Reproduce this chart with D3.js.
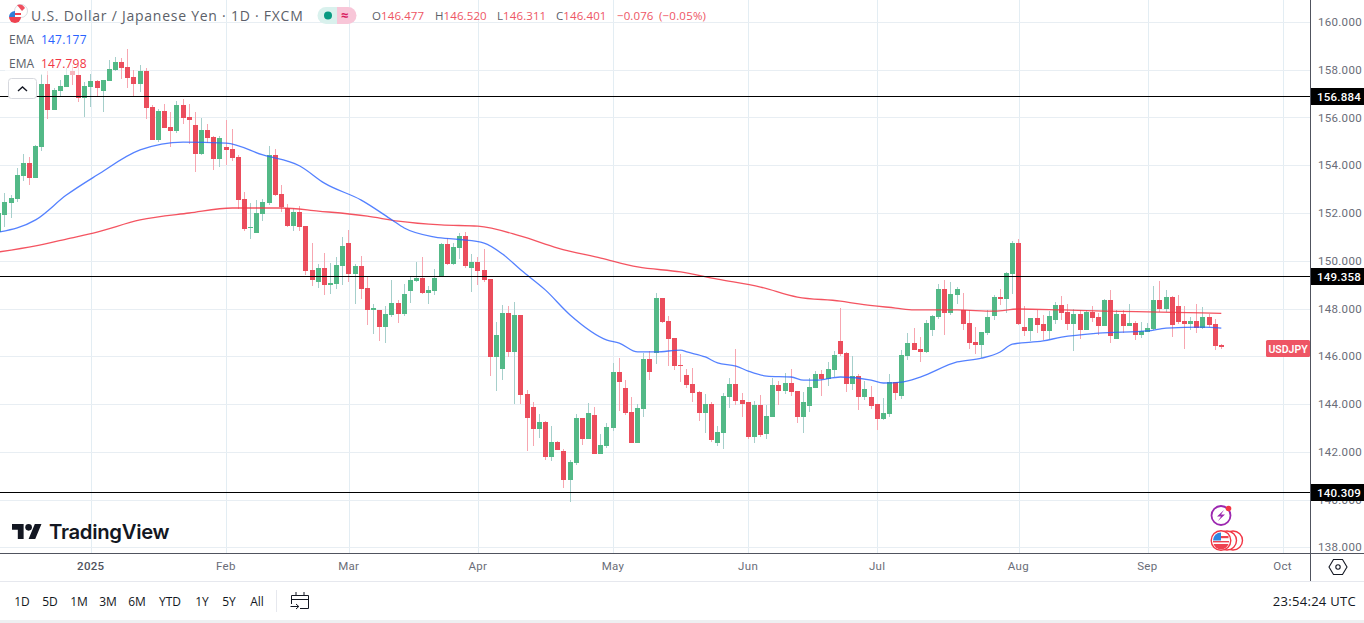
<!DOCTYPE html>
<html>
<head>
<meta charset="utf-8">
<title>USD/JPY</title>
<script src="https://cdn.jsdelivr.net/npm/d3@7"></script>
<style>
  html, body { margin: 0; padding: 0; background: #fff; overflow: hidden; }
  svg { display: block; }
  text { font-family: "Open Sans", Roboto, sans-serif; }
</style>
</head>
<body>
<svg id="chart" width="1364" height="623"></svg>
<script>
// daily candles (oldest first)
const opens = [
  151.20,151.91,152.42,152.58,153.55,154.09,153.46,154.76,157.40,156.31,
  157.11,157.28,157.95,157.78,156.81,157.28,157.53,157.11,157.53,157.99,
  158.32,158.11,157.69,157.40,157.95,156.44,155.06,156.27,155.60,155.43,
  156.52,156.02,155.68,154.47,155.47,155.18,154.26,154.76,154.68,154.34,
  152.58,151.37,151.16,151.96,152.42,154.43,152.79,152.21,151.45,152.04,
  151.45,149.61,149.11,149.69,148.98,149.02,149.78,150.74,149.44,149.78,
  148.86,147.94,147.94,147.22,147.73,148.23,147.77,148.73,149.15,149.28,
  148.65,148.73,149.32,150.70,149.86,150.53,151.04,149.69,149.95,149.61,
  149.23,145.97,145.46,147.81,146.18,147.73,144.42,143.87,142.95,143.24,
  141.78,142.41,142.03,140.81,141.53,143.41,142.53,143.54,141.90,142.24,
  143.00,145.34,144.67,143.66,142.37,143.79,145.88,146.13,148.44,147.48,
  146.76,145.63,145.21,144.83,144.50,143.62,144.00,142.37,142.78,144.29,
  144.83,144.17,144.08,142.62,143.96,142.74,143.45,144.79,144.54,144.88,
  144.54,143.45,143.91,144.67,145.25,145.05,145.42,146.64,146.13,144.83,
  145.17,144.29,144.29,144.00,143.37,143.58,144.92,144.33,146.01,146.55,
  146.30,146.18,147.10,147.64,148.81,147.81,148.56,147.94,147.39,146.60,
  146.47,146.97,147.68,148.48,148.40,149.44,150.74,147.22,147.06,147.60,
  147.35,147.06,147.52,148.15,147.85,147.35,147.77,147.10,147.85,147.64,
  147.27,148.36,146.72,147.77,147.27,147.39,146.89,147.01,147.14,148.36,
  147.98,148.48,148.10,147.48,147.35,147.48,147.18,147.64,147.35,146.477
];
const highs = [
  152.12,152.84,152.75,153.88,154.47,154.34,154.85,157.82,157.95,157.23,
  157.57,158.07,158.20,158.20,157.49,157.82,157.57,157.57,158.41,158.53,
  158.49,158.87,157.99,158.20,158.07,156.52,156.35,156.56,156.23,156.69,
  156.77,156.56,156.23,155.98,155.73,155.22,155.22,155.89,155.52,154.43,
  152.88,152.42,152.54,152.58,154.81,154.68,153.17,152.38,152.21,152.29,
  151.45,150.74,149.86,150.32,149.90,150.15,151.00,151.29,149.86,150.20,
  149.32,148.19,147.94,148.10,149.19,148.36,149.02,149.32,149.95,150.15,
  148.94,149.65,150.74,150.95,150.74,151.16,151.20,150.28,150.15,150.49,
  149.23,147.43,148.15,148.10,148.27,147.73,144.58,144.08,143.58,143.29,
  143.08,142.45,142.11,141.65,143.58,143.41,144.04,143.87,142.74,143.20,
  145.72,145.92,145.00,144.29,144.00,146.13,146.22,148.65,148.44,147.68,
  146.76,146.09,145.47,145.50,144.54,144.42,144.08,143.08,144.46,145.08,
  146.30,144.46,144.08,144.12,144.37,143.96,145.08,144.96,145.30,145.46,
  144.54,144.50,145.08,145.38,145.42,145.76,146.22,148.02,146.18,146.01,
  145.25,144.96,144.75,144.00,144.25,145.25,144.92,146.26,146.97,147.18,
  146.80,147.52,147.73,149.02,149.19,149.11,148.90,148.65,147.94,147.22,
  147.01,147.94,148.56,148.81,149.53,150.83,150.91,148.10,147.60,147.94,
  147.73,147.89,148.27,148.52,148.19,147.98,147.94,147.94,148.10,147.81,
  148.40,148.77,147.94,147.94,148.19,147.48,147.43,147.39,148.94,149.15,
  148.77,148.52,148.56,148.10,147.64,148.19,148.06,147.77,147.56,146.520
];
const lows = [
  150.99,151.41,151.79,152.46,153.34,153.17,153.46,154.60,155.94,156.31,
  156.86,157.28,157.36,156.65,156.02,156.44,156.86,156.23,157.53,157.95,
  157.61,157.23,156.90,157.07,155.94,155.06,154.97,155.56,154.76,155.35,
  155.73,154.89,153.72,154.43,154.93,153.80,153.93,154.01,154.18,152.17,
  151.25,150.91,151.16,151.66,152.33,152.71,152.04,151.41,151.25,151.25,
  149.40,148.94,148.86,148.56,148.60,148.81,148.98,149.11,148.19,148.40,
  147.31,146.93,146.64,146.55,147.64,147.39,147.68,148.23,149.11,148.61,
  148.19,148.56,149.32,149.82,149.82,150.07,149.69,148.69,148.98,149.11,
  145.17,144.54,145.00,145.97,144.00,144.00,142.03,142.24,142.57,141.65,
  141.61,142.07,140.48,139.89,141.44,142.28,142.53,141.90,141.90,142.16,
  142.87,143.71,143.54,142.37,142.37,143.45,145.00,145.67,147.39,145.59,
  145.42,144.92,144.67,144.08,143.29,142.78,142.41,142.24,142.11,143.83,
  143.96,143.45,142.53,142.37,142.62,142.53,143.45,143.96,144.42,144.33,
  143.20,142.78,143.66,144.67,144.33,144.75,145.13,146.01,144.50,144.58,
  143.75,144.17,143.79,142.91,143.33,143.45,144.17,144.21,145.84,146.26,
  145.76,146.13,146.85,147.56,146.89,147.73,148.19,147.10,146.30,146.09,
  145.92,146.89,147.52,148.15,147.81,148.61,147.31,146.85,146.64,146.97,
  146.68,146.72,147.35,147.52,147.10,146.22,146.72,147.10,147.43,146.89,
  147.27,146.55,146.72,146.97,147.27,146.68,146.76,147.01,147.10,147.85,
  147.85,146.80,147.35,146.30,147.10,146.97,147.14,147.22,146.26,146.311
];
const closes = [
  152.00,152.46,152.63,153.59,154.09,153.46,154.81,157.40,156.31,157.15,
  157.32,157.78,157.78,156.81,157.32,157.53,157.23,157.57,158.03,158.32,
  158.07,157.65,157.40,157.95,156.40,155.06,156.27,155.56,155.43,156.52,
  155.98,155.89,154.47,155.47,155.14,154.26,155.14,154.64,154.30,152.54,
  151.33,151.41,152.00,152.46,154.43,152.75,152.25,151.45,152.04,151.41,
  149.57,149.19,149.69,148.98,149.07,149.82,150.62,149.44,149.78,148.81,
  147.94,148.02,147.22,147.77,148.23,147.77,148.61,149.19,149.28,148.65,
  148.77,149.28,150.70,149.86,150.57,151.04,149.78,149.95,149.57,149.19,
  145.97,146.89,147.81,146.18,147.73,144.37,143.41,142.95,143.24,141.78,
  142.41,142.07,140.81,141.57,143.41,142.53,143.62,141.90,142.28,143.04,
  145.34,144.92,143.62,142.37,143.83,145.88,145.34,148.44,147.43,146.72,
  145.59,145.59,144.79,144.46,143.62,144.00,142.49,142.83,144.33,144.83,
  144.12,144.00,142.62,143.96,142.70,143.50,144.79,144.54,144.88,144.50,
  143.45,144.08,144.71,145.25,145.05,145.46,146.05,146.09,144.83,145.17,
  144.29,144.63,143.91,143.37,143.62,144.92,144.46,146.05,146.55,146.26,
  146.18,147.39,147.68,148.81,147.81,148.61,148.81,147.35,146.55,146.47,
  147.01,147.64,148.48,148.40,149.49,150.74,147.35,147.06,147.60,147.31,
  147.06,147.68,148.15,147.81,147.35,147.77,147.10,147.85,147.60,147.27,
  148.36,146.85,147.77,147.27,147.39,146.89,147.06,147.18,148.36,147.98,
  148.48,147.31,147.43,147.35,147.48,147.18,147.64,147.31,146.43,146.401
];

// EMA lines, read at these bar numbers
const fastBars = [0,6,11,16,23,30,37,43,49,53,59,64,66,71,75,79,82,85,89,93,99,101,104,107,111,112,115,117,120,122,125,129,131,133,137,142,144,147,150,156,160,163,165,170,173,179,187,190,196,199];
const fastEma = [151.20,151.71,152.75,153.59,154.64,154.97,154.93,154.43,153.97,153.25,152.54,151.71,151.37,150.99,150.89,150.74,150.28,149.61,148.77,147.73,146.68,146.55,146.18,146.18,146.26,146.18,145.97,145.72,145.59,145.38,145.17,145.13,145.00,145.00,145.13,145.00,144.88,144.92,145.13,145.76,145.92,146.18,146.51,146.64,146.80,146.97,147.06,147.18,147.22,147.177];
const slowBars = [0,6,11,16,23,31,38,46,52,60,65,72,78,85,91,98,104,111,117,124,130,137,140,146,149,156,162,166,173,180,189,199];
const slowEma = [150.37,150.62,150.91,151.20,151.71,152.00,152.21,152.21,152.08,151.87,151.66,151.50,151.45,151.03,150.53,150.11,149.74,149.53,149.23,148.90,148.48,148.31,148.19,148.02,147.94,147.94,147.89,147.98,147.94,147.89,147.85,147.798];

const priceTicks = [138,140,142,144,146,148,150,152,154,156,158,160];
const levels = [156.884, 149.358, 140.309];
const timeTickBars = [15,37,57,78,100,122,143,166,187,209];
const timeTickLabels = ['2025','Feb','Mar','Apr','May','Jun','Jul','Aug','Sep','Oct'];
const rangeButtons = ['1D','5D','1M','3M','6M','YTD','1Y','5Y','All'];
const rangeButtonX = [22,50,79,108,137,170,202,229,257];

const UP = '#53b987', DOWN = '#eb4d5c';
const UP_WICK = '#a6cfcb', DOWN_WICK = '#f7a6b0';
const INK = '#131722', MUTED = '#6a6d78';

const W = 1364, PLOT_R = 1310, PLOT_B = 553;

const x = d3.scaleLinear().domain([0, 199]).range([-1.2, 1221.3]);
const y = d3.scaleLinear().domain([138, 160]).range([547.25, 22]);
const crisp = v => Math.round(v) + 0.5;

const svg = d3.select('#chart');
svg.append('rect').attr('width', W).attr('height', 623).attr('fill', '#fff');

// grid
const grid = svg.append('g').attr('shape-rendering', 'crispEdges');
grid.selectAll('.v').data(timeTickBars).join('line')
  .attr('x1', d => crisp(x(d))).attr('x2', d => crisp(x(d)))
  .attr('y1', 0).attr('y2', PLOT_B)
  .attr('stroke', '#e3edf3');
grid.selectAll('.h').data(priceTicks).join('line')
  .attr('x1', 0).attr('x2', PLOT_R)
  .attr('y1', d => crisp(y(d))).attr('y2', d => crisp(y(d)))
  .attr('stroke', '#e8eef3');

// candles
const bars = d3.range(opens.length);
const candles = svg.append('g').attr('shape-rendering', 'crispEdges');
candles.selectAll('line').data(bars).join('line')
  .attr('x1', i => crisp(x(i) - 0.5)).attr('x2', i => crisp(x(i) - 0.5))
  .attr('y1', i => y(highs[i])).attr('y2', i => y(lows[i]))
  .attr('stroke', i => closes[i] >= opens[i] ? UP_WICK : DOWN_WICK);
candles.selectAll('rect').data(bars).join('rect')
  .attr('x', i => Math.round(x(i) - 0.5) - 2)
  .attr('width', 5)
  .attr('y', i => Math.round(y(Math.max(opens[i], closes[i]))))
  .attr('height', i => Math.max(1, Math.abs(y(opens[i]) - y(closes[i]))))
  .attr('fill', i => closes[i] >= opens[i] ? UP : DOWN);

// EMAs
const emaLine = d3.line().curve(d3.curveMonotoneX).x(d => x(d[0])).y(d => y(d[1]));
svg.append('path').datum(d3.zip(slowBars, slowEma)).attr('d', emaLine)
  .attr('fill', 'none').attr('stroke', '#f23645').attr('stroke-width', 1.3).attr('opacity', 0.85);
svg.append('path').datum(d3.zip(fastBars, fastEma)).attr('d', emaLine)
  .attr('fill', 'none').attr('stroke', '#2962ff').attr('stroke-width', 1.3).attr('opacity', 0.8);

// horizontal levels
svg.append('g').attr('shape-rendering', 'crispEdges')
  .selectAll('line').data(levels).join('line')
  .attr('x1', 0).attr('x2', PLOT_R)
  .attr('y1', d => crisp(y(d))).attr('y2', d => crisp(y(d)))
  .attr('stroke', '#000');

// legend veil, the candles fade out underneath it
svg.append('rect').attr('x', 5).attr('y', 53).attr('width', 85).attr('height', 22)
  .attr('fill', '#fff').attr('opacity', 0.6);

// axes
const yAxis = d3.axisRight(y).tickValues(priceTicks).tickSize(0).tickPadding(8)
  .tickFormat(d3.format('.3f'));
const gy = svg.append('g').attr('transform', `translate(${PLOT_R},0)`).call(yAxis);
gy.select('.domain').remove();
gy.selectAll('text').attr('fill', MUTED).attr('font-size', 11.5)
  .style('font-family', 'Roboto, sans-serif').attr('letter-spacing', 0.3);

const xAxis = d3.axisBottom(x).tickValues(timeTickBars).tickSize(0).tickPadding(9)
  .tickFormat((d, i) => timeTickLabels[i]);
const gx = svg.append('g').attr('transform', `translate(-0.7,${PLOT_B})`).call(xAxis);
gx.select('.domain').remove();
gx.selectAll('text').attr('fill', (d, i) => i === 0 ? '#50535e' : MUTED).attr('font-size', 11.5)
  .attr('font-weight', (d, i) => i === 0 ? 500 : 400)
  .style('font-family', 'Roboto, sans-serif').attr('letter-spacing', 0.3);

// frame
const frame = svg.append('g').attr('shape-rendering', 'crispEdges');
frame.append('line').attr('x1', 0).attr('x2', W).attr('y1', PLOT_B + 0.5).attr('y2', PLOT_B + 0.5).attr('stroke', '#50535e');
frame.append('line').attr('x1', PLOT_R + 0.5).attr('x2', PLOT_R + 0.5).attr('y1', 0).attr('y2', 581).attr('stroke', '#50535e');
frame.append('line').attr('x1', 0).attr('x2', W).attr('y1', 581.5).attr('y2', 581.5).attr('stroke', '#e6e8ee');
frame.append('rect').attr('x', 0).attr('y', 620).attr('width', W).attr('height', 3).attr('fill', '#eeeff1');

// level tags on the price axis
const tags = svg.append('g');
levels.forEach(d => {
  const cy = Math.round(y(d));
  tags.append('rect').attr('x', PLOT_R + 1).attr('y', cy - 8).attr('width', 54).attr('height', 17).attr('fill', '#000');
  tags.append('text').attr('x', 1339).attr('y', cy + 4.5).attr('text-anchor', 'middle')
    .attr('fill', '#fff').attr('font-size', 11.5).attr('font-weight', 500)
    .style('font-family', 'Roboto, sans-serif').attr('letter-spacing', 0.2).text(d3.format('.3f')(d));
});
tags.append('rect').attr('x', 1266).attr('y', 340).attr('width', 44).attr('height', 17).attr('rx', 1.5).attr('fill', '#ee5564');
tags.append('text').attr('x', 1288).attr('y', 352.5).attr('text-anchor', 'middle')
  .attr('fill', '#fff').attr('font-size', 10.5).attr('font-weight', 600)
  .style('font-family', 'Roboto, sans-serif').text('USDJPY');

// header
function label(txt, px, py, size, fill, extra) {
  const t = svg.append('text').attr('x', px).attr('y', py).attr('font-size', size).attr('fill', fill).text(txt);
  if (extra) extra(t);
  return t;
}
// flag badge
const flag = svg.append('g');
flag.append('circle').attr('cx', 21).attr('cy', 11).attr('r', 6.5).attr('fill', '#fff').attr('stroke', '#d9dbe2');
flag.append('path').attr('d', 'M17 5 A7 7 0 0 1 25 8 L22 11 Z').attr('fill', '#ef4f5f');
flag.append('circle').attr('cx', 15).attr('cy', 17).attr('r', 6).attr('fill', '#fff');
flag.append('path').attr('d', 'M9 17 A6 6 0 0 0 21 17 Z').attr('fill', '#ee4250');
flag.append('path').attr('d', 'M9 17 A6 6 0 0 1 15 11 L15 17 Z').attr('fill', '#2f7fd8');
flag.append('rect').attr('x', 15).attr('y', 13).attr('width', 6).attr('height', 2).attr('fill', '#ee4250');

label('U.S. Dollar / Japanese Yen · 1D · FXCM', 31, 21, 14, '#5c5f69', t => t.attr('letter-spacing', 0.75));

// market status pills
svg.append('path').attr('d', 'M337 7 H326 A8.5 8.5 0 0 0 326 24 H337 Z').attr('fill', '#d9f1ed');
svg.append('path').attr('d', 'M337 7 H348 A8.5 8.5 0 0 1 348 24 H337 Z').attr('fill', '#f8c6d8');
svg.append('circle').attr('cx', 328).attr('cy', 15.5).attr('r', 4).attr('fill', '#089981');
label('≈', 341, 20, 13, '#d81b60', t => t.attr('font-weight', 700));

const ohlcX = [372, 435, 497, 556];
['O', 'H', 'L', 'C'].forEach((k, i) => {
  const v = [opens, highs, lows, closes][i][opens.length - 1];
  const t = label(k, ohlcX[i], 20, 11.5, '#5c5f69', t => t.attr('letter-spacing', 0.1));
  t.append('tspan').attr('fill', '#ee5564').text(d3.format('.3f')(v));
});
label('−0.076', 617, 20, 11.5, '#ee5564', t => t.attr('letter-spacing', 0.1));
label('(−0.05%)', 659, 20, 11.5, '#ee5564', t => t.attr('letter-spacing', 0.2));

label('EMA', 9, 44, 12, '#5c5f69');
label(d3.format('.3f')(fastEma[fastEma.length - 1]), 41, 44, 12, '#2962ff', t => t.attr('letter-spacing', 0.2));
label('EMA', 9, 68, 12, '#5c5f69');
label(d3.format('.3f')(slowEma[slowEma.length - 1]), 41, 68, 12, '#f23645', t => t.attr('letter-spacing', 0.2));

// collapse button
svg.append('rect').attr('x', 8.5).attr('y', 78.5).attr('width', 28).attr('height', 20).attr('rx', 3)
  .attr('fill', '#fff').attr('stroke', '#d6d8de');
svg.append('path').attr('d', 'M18 91 L22.5 87 L27 91').attr('fill', 'none').attr('stroke', INK).attr('stroke-width', 1.4);

// logo
const logo = svg.append('g').attr('transform', 'translate(12,520.7) scale(0.83)').attr('fill', INK);
logo.append('path').attr('d', 'M14 22H7V11H0V4h14v18zM28 22h-8l7.5-18h8L28 22z');
logo.append('circle').attr('cx', 20).attr('cy', 8).attr('r', 4);
label('TradingView', 49, 539, 20.3, INK, t => t.style('font-family', 'Inter, sans-serif').attr('font-weight', 600).attr('letter-spacing', -0.3));

// markers near the last bar
const bolt = svg.append('g');
bolt.append('circle').attr('cx', 1221).attr('cy', 515.5).attr('r', 9.5).attr('fill', '#fff').attr('stroke', '#9c27b0').attr('stroke-width', 1.8);
bolt.append('path').attr('d', 'M1224 510 L1217 516.5 L1221 516.5 L1218 521 L1225 514.5 L1221 514.5 Z').attr('fill', '#9c27b0');
bolt.append('circle').attr('cx', 1228.5).attr('cy', 508.5).attr('r', 2.8).attr('fill', '#f23645');

const econ = svg.append('g');
[1233, 1227].forEach(cx => {
  econ.append('circle').attr('cx', cx).attr('cy', 540.5).attr('r', 9.5).attr('fill', '#fff').attr('stroke', '#f23645').attr('stroke-width', 1.4);
});
econ.append('circle').attr('cx', 1221).attr('cy', 540.5).attr('r', 9.8).attr('fill', '#fff').attr('stroke', '#f23645').attr('stroke-width', 1.4);
econ.append('path').attr('d', 'M1213.5 544 A8 8 0 0 0 1228.5 544 Z').attr('fill', '#ee4250');
econ.append('path').attr('d', 'M1213 540.5 A8 8 0 0 1 1221 532.5 L1221 540.5 Z').attr('fill', '#2f86e0');
econ.append('rect').attr('x', 1221).attr('y', 536).attr('width', 7.5).attr('height', 2.2).attr('fill', '#ee4250');
econ.append('rect').attr('x', 1213).attr('y', 541).attr('width', 16).attr('height', 1.4).attr('fill', '#ee4250');

// settings hexagon
svg.append('path').attr('d', 'M1329 567 L1333.5 559.5 L1342.5 559.5 L1347 567 L1342.5 574.5 L1333.5 574.5 Z')
  .attr('fill', 'none').attr('stroke', INK).attr('stroke-width', 1.1);
svg.append('circle').attr('cx', 1338).attr('cy', 567).attr('r', 2.2).attr('fill', 'none').attr('stroke', INK).attr('stroke-width', 1.1);

// bottom toolbar
rangeButtons.forEach((b, i) => {
  label(b, rangeButtonX[i], 605.5, 12, INK, t => t.attr('text-anchor', 'middle'));
});
svg.append('line').attr('x1', 276.5).attr('x2', 276.5).attr('y1', 590).attr('y2', 612).attr('stroke', '#e6e8ee');
svg.append('path')
  .attr('d', 'M291.5 595.5 H308.5 V608.5 H300 M291.5 595.5 V604 M296 592 V595 M304 592 V595 M291.5 599.5 H308.5 M290.5 606.5 H298.5 M296 604 L298.8 606.5 L296 609')
  .attr('fill', 'none').attr('stroke', INK).attr('stroke-width', 1);
label('23:54:24 UTC', 1356, 605.5, 13, INK, t => t.attr('text-anchor', 'end').attr('letter-spacing', 0.3));
</script>
</body>
</html>
